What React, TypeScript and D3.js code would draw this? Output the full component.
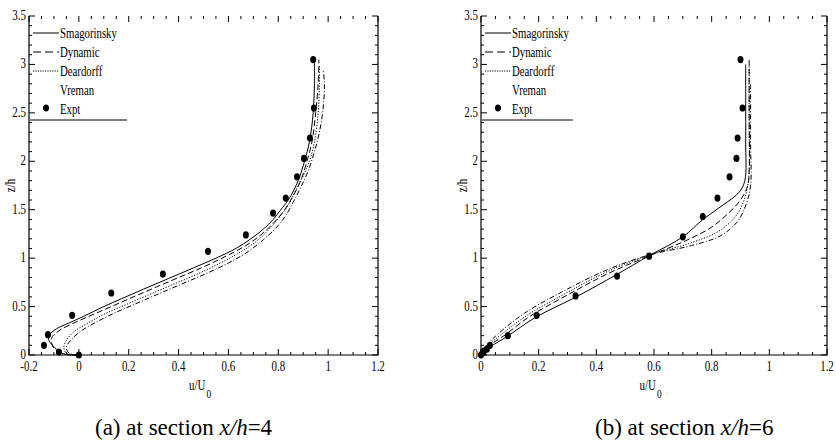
import React from 'react'
import * as d3 from 'd3'

type Pt = [number, number]

// ---- panel (a) x/h=4 : [u/U0, z/h]
const smagA: Pt[] = [[0,0],[-0.06,0.01],[-0.09,0.06],[-0.12,0.15],[-0.12,0.2],[-0.09,0.27],[-0.04,0.33],[0.02,0.4],[0.1,0.5],[0.17,0.58],[0.26,0.68],[0.36,0.79],[0.46,0.9],[0.55,1.0],[0.63,1.1],[0.69,1.2],[0.74,1.3],[0.78,1.4],[0.81,1.5],[0.84,1.6],[0.88,1.8],[0.905,2.0],[0.925,2.2],[0.94,2.5],[0.945,2.8],[0.945,3.05]]
const dynA: Pt[] = [[0,0],[-0.06,0.01],[-0.1,0.07],[-0.11,0.17],[-0.08,0.25],[-0.02,0.33],[0.05,0.41],[0.13,0.5],[0.21,0.59],[0.3,0.69],[0.4,0.8],[0.5,0.91],[0.59,1.02],[0.67,1.13],[0.73,1.24],[0.78,1.36],[0.82,1.48],[0.85,1.6],[0.89,1.8],[0.915,2.0],[0.935,2.2],[0.95,2.5],[0.96,2.8],[0.963,3.05]]
const deaA: Pt[] = [[0,0],[-0.05,0.02],[-0.06,0.08],[-0.05,0.15],[-0.02,0.24],[0.03,0.32],[0.1,0.42],[0.18,0.51],[0.27,0.61],[0.37,0.72],[0.47,0.83],[0.56,0.94],[0.64,1.05],[0.71,1.17],[0.76,1.29],[0.8,1.41],[0.84,1.55],[0.87,1.7],[0.9,1.85],[0.925,2.0],[0.945,2.2],[0.96,2.5],[0.965,2.8],[0.965,3.0]]
const vreA: Pt[] = [[0,0],[-0.04,0.02],[-0.05,0.08],[-0.03,0.16],[0.01,0.25],[0.07,0.34],[0.14,0.43],[0.22,0.52],[0.31,0.62],[0.41,0.73],[0.51,0.84],[0.6,0.95],[0.68,1.07],[0.74,1.19],[0.79,1.31],[0.83,1.44],[0.86,1.58],[0.89,1.73],[0.92,1.9],[0.945,2.1],[0.965,2.3],[0.98,2.55],[0.985,2.8],[0.98,2.95]]
const exptA: Pt[] = [[-0.14,0.1],[-0.124,0.21],[-0.08,0.03],[0,0],[-0.027,0.41],[0.13,0.64],[0.337,0.836],[0.518,1.07],[0.67,1.24],[0.779,1.465],[0.83,1.62],[0.875,1.84],[0.903,2.03],[0.927,2.24],[0.943,2.55],[0.94,3.05]]

// ---- panel (b) x/h=6
const smagB: Pt[] = [[0,0],[0.03,0.08],[0.09,0.19],[0.19,0.39],[0.33,0.6],[0.47,0.83],[0.58,1.02],[0.7,1.22],[0.77,1.4],[0.84,1.55],[0.895,1.68],[0.915,1.8],[0.918,2.2],[0.918,2.6],[0.918,3.0]]
const dynB: Pt[] = [[0,0],[0.03,0.1],[0.08,0.2],[0.17,0.4],[0.3,0.62],[0.44,0.84],[0.58,1.02],[0.71,1.18],[0.8,1.32],[0.86,1.47],[0.9,1.6],[0.925,1.75],[0.93,1.9],[0.93,2.5],[0.93,3.05]]
const deaB: Pt[] = [[0,0],[0.025,0.1],[0.07,0.21],[0.16,0.41],[0.29,0.63],[0.43,0.85],[0.58,1.03],[0.72,1.15],[0.82,1.27],[0.88,1.42],[0.91,1.58],[0.925,1.75],[0.93,1.9],[0.93,2.5],[0.93,3.0]]
const vreB: Pt[] = [[0,0],[0.02,0.1],[0.06,0.22],[0.15,0.43],[0.28,0.65],[0.43,0.87],[0.58,1.03],[0.73,1.13],[0.83,1.23],[0.89,1.38],[0.92,1.56],[0.935,1.75],[0.935,2.2],[0.935,2.8]]
const exptB: Pt[] = [[0,0],[0.005,0.02],[0.01,0.04],[0.02,0.06],[0.031,0.1],[0.093,0.2],[0.193,0.41],[0.328,0.61],[0.472,0.815],[0.583,1.02],[0.7,1.22],[0.769,1.43],[0.82,1.62],[0.862,1.84],[0.886,2.03],[0.89,2.24],[0.907,2.55],[0.9,3.05]]

const legendNames = ['Smagorinsky', 'Dynamic', 'Deardorff', 'Vreman', 'Expt']
const yTicks = [0, 0.5, 1, 1.5, 2, 2.5, 3, 3.5]
const xTicksA = [-0.2, 0, 0.2, 0.4, 0.6, 0.8, 1, 1.2]
const xTicksB = [0, 0.2, 0.4, 0.6, 0.8, 1, 1.2]

const FONT = '"Liberation Serif", "Times New Roman", serif'
const dashes = ['none', '6,3', '1.2,1.6', '5,2,1,2']
const legendDash = ['none', '8,4', '1.2,1.2', null]

function Txt(props: { x: number; y: number; size: number; anchor?: string; sx?: number; rotate?: number; children: React.ReactNode }) {
  const { x, y, size, anchor = 'start', sx = 0.78, rotate = 0, children } = props
  return (
    <text transform={`translate(${x},${y}) rotate(${rotate}) scale(${sx},1)`} fontSize={size} textAnchor={anchor} fontFamily={FONT} fill="#000">
      {children}
    </text>
  )
}

function Panel(props: { left: number; right: number; xDomain: [number, number]; xTicks: number[]; series: Pt[][]; expt: Pt[]; legendW: number }) {
  const { left, right, xDomain, xTicks, series, expt, legendW } = props
  const top = 16, bottom = 355
  const x = d3.scaleLinear().domain(xDomain).range([left, right])
  const y = d3.scaleLinear().domain([0, 3.5]).range([bottom, top])
  const minorX = d3.range(Math.round(xDomain[0] * 20), Math.round(xDomain[1] * 20) + 1).map(k => k / 20)
  const minorY = d3.range(0, 36).map(k => k / 10)
  const path = d3.line<Pt>().x(d => x(d[0])).y(d => y(d[1])).curve(d3.curveCatmullRom.alpha(0.5))
  const fmt = (v: number) => (Math.abs(v) < 1e-9 ? '0' : String(+v.toFixed(1)))

  return (
    <g>
      {/* frame: left, bottom, right */}
      <path d={`M${left},${top}V${bottom}H${right}V${top}`} fill="none" stroke="#000" strokeWidth={1.2} />
      {minorX.map((v, i) => {
        const major = xTicks.some(t => Math.abs(t - v) < 1e-6)
        const L = major ? 6 : 3
        return (
          <g key={'mx' + i} stroke="#000" strokeWidth={1}>
            <line x1={x(v)} x2={x(v)} y1={bottom} y2={bottom - L} />
            <line x1={x(v)} x2={x(v)} y1={top} y2={top + L} />
          </g>
        )
      })}
      {minorY.map((v, i) => {
        const major = yTicks.some(t => Math.abs(t - v) < 1e-6)
        const L = major ? 6 : 3
        return (
          <g key={'my' + i} stroke="#000" strokeWidth={1}>
            <line x1={left} x2={left + L} y1={y(v)} y2={y(v)} />
            <line x1={right} x2={right - L} y1={y(v)} y2={y(v)} />
          </g>
        )
      })}
      {xTicks.map(v => (
        <Txt key={'xl' + v} x={x(v)} y={bottom + 16} size={14} anchor="middle">{fmt(v)}</Txt>
      ))}
      {yTicks.map(v => (
        <Txt key={'yl' + v} x={left - 3} y={y(v) + 4} size={14} anchor="end">{fmt(v)}</Txt>
      ))}
      <Txt x={left - 14} y={(top + bottom) / 2} size={14} anchor="middle" rotate={-90}>z/h</Txt>
      <Txt x={(left + right) / 2 + 2} y={bottom + 35} size={14} anchor="end">u/U</Txt>
      <Txt x={(left + right) / 2 + 3} y={bottom + 43} size={12} anchor="start">0</Txt>

      {series.map((s, i) => (
        <path key={'s' + i} d={path(s) || ''} fill="none" stroke="#000" strokeWidth={1} strokeDasharray={dashes[i]} />
      ))}
      {expt.map((d, i) => (
        <ellipse key={'e' + i} cx={x(d[0])} cy={y(d[1])} rx={3} ry={3.6} fill="#000" />
      ))}

      {/* legend */}
      <g>
        <line x1={left + 1} x2={left + legendW} y1={120} y2={120} stroke="#000" strokeWidth={1} />
        {legendNames.map((name, i) => {
          const ly = 33 + i * 19
          const dash = legendDash[i]
          return (
            <g key={name}>
              {i < 4 && dash !== null && (
                <line x1={left + 4} x2={left + 30} y1={ly} y2={ly} stroke="#000" strokeWidth={1} strokeDasharray={dash === 'none' ? undefined : dash} />
              )}
              {i === 4 && <ellipse cx={left + 17} cy={ly - 1} rx={3} ry={3.6} fill="#000" />}
              <Txt x={left + 31} y={ly + 5} size={15} sx={0.72}>{name}</Txt>
            </g>
          )
        })}
      </g>
    </g>
  )
}

export default function App() {
  return (
    <svg width={836} height={444} style={{ position: 'absolute', left: 0, top: 0, background: '#fff' }}>
      <rect width={836} height={444} fill="#fff" />
      <Panel left={29} right={378} xDomain={[-0.2, 1.2]} xTicks={xTicksA} series={[smagA, dynA, deaA, vreA]} expt={exptA} legendW={98} />
      <Panel left={481} right={827} xDomain={[0, 1.2]} xTicks={xTicksB} series={[smagB, dynB, deaB, vreB]} expt={exptB} legendW={92} />
      <text x={95} y={435} fontSize={23} fontFamily={FONT}>
        (a) at section <tspan fontStyle="italic">x/h</tspan>=4
      </text>
      <text x={595} y={435} fontSize={23} fontFamily={FONT}>
        (b) at section <tspan fontStyle="italic">x/h</tspan>=6
      </text>
    </svg>
  )
}
